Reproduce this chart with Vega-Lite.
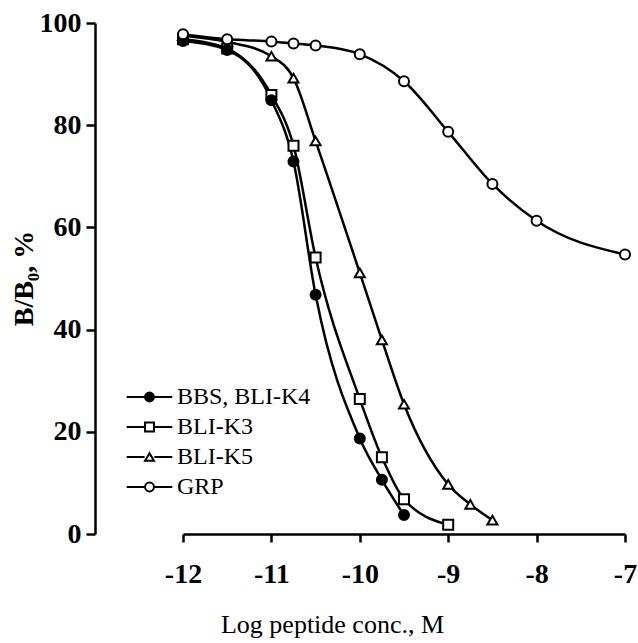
{
  "$schema": "https://vega.github.io/schema/vega-lite/v6.json",
  "width": 530,
  "height": 511,
  "autosize": {"type": "none"},
  "padding": {"left": 95, "top": 23, "right": 13, "bottom": 109},
  "background": "white",
  "config": {"view": {"stroke": null}, "font": "Liberation Serif"},
  "data": {
    "values": [
      {"series": "BLI-K5", "logc": -12, "bb": 97.5},
      {"series": "BLI-K5", "logc": -11.5, "bb": 96.3},
      {"series": "BLI-K5", "logc": -11, "bb": 93.5},
      {"series": "BLI-K5", "logc": -10.75, "bb": 89.2},
      {"series": "BLI-K5", "logc": -10.5, "bb": 76.9},
      {"series": "BLI-K5", "logc": -10, "bb": 51.1},
      {"series": "BLI-K5", "logc": -9.75, "bb": 38.0},
      {"series": "BLI-K5", "logc": -9.5, "bb": 25.4},
      {"series": "BLI-K5", "logc": -9, "bb": 9.7},
      {"series": "BLI-K5", "logc": -8.75, "bb": 5.8},
      {"series": "BLI-K5", "logc": -8.5, "bb": 2.7},
      {"series": "BLI-K3", "logc": -12, "bb": 96.8},
      {"series": "BLI-K3", "logc": -11.5, "bb": 95.0},
      {"series": "BLI-K3", "logc": -11, "bb": 85.9},
      {"series": "BLI-K3", "logc": -10.75, "bb": 76.0},
      {"series": "BLI-K3", "logc": -10.5, "bb": 54.1},
      {"series": "BLI-K3", "logc": -10, "bb": 26.4},
      {"series": "BLI-K3", "logc": -9.75, "bb": 15.0},
      {"series": "BLI-K3", "logc": -9.5, "bb": 6.8},
      {"series": "BLI-K3", "logc": -9, "bb": 1.8},
      {"series": "BBS, BLI-K4", "logc": -12, "bb": 96.5},
      {"series": "BBS, BLI-K4", "logc": -11.5, "bb": 94.7},
      {"series": "BBS, BLI-K4", "logc": -11, "bb": 84.9},
      {"series": "BBS, BLI-K4", "logc": -10.75, "bb": 72.9},
      {"series": "BBS, BLI-K4", "logc": -10.5, "bb": 46.8},
      {"series": "BBS, BLI-K4", "logc": -10, "bb": 18.7},
      {"series": "BBS, BLI-K4", "logc": -9.75, "bb": 10.6},
      {"series": "BBS, BLI-K4", "logc": -9.5, "bb": 3.7},
      {"series": "GRP", "logc": -12, "bb": 97.8},
      {"series": "GRP", "logc": -11.5, "bb": 96.8},
      {"series": "GRP", "logc": -11, "bb": 96.4},
      {"series": "GRP", "logc": -10.75, "bb": 96.0},
      {"series": "GRP", "logc": -10.5, "bb": 95.6},
      {"series": "GRP", "logc": -10, "bb": 93.9},
      {"series": "GRP", "logc": -9.5, "bb": 88.6},
      {"series": "GRP", "logc": -9, "bb": 78.7},
      {"series": "GRP", "logc": -8.5, "bb": 68.5},
      {"series": "GRP", "logc": -8, "bb": 61.3},
      {"series": "GRP", "logc": -7, "bb": 54.7}
    ]
  },
  "encoding": {
    "x": {
      "field": "logc",
      "type": "quantitative",
      "scale": {"domain": [-12, -7], "range": [88, 530], "nice": false, "zero": false},
      "axis": {
        "title": "Log peptide conc., M",
        "values": [-12, -11, -10, -9, -8, -7],
        "labelExpr": "'' + datum.value",
        "grid": false,
        "labelFlush": false,
        "domainColor": "black",
        "domainWidth": 2.5,
        "tickColor": "black",
        "tickWidth": 2.5,
        "tickSize": 8,
        "labelFont": "Liberation Serif",
        "labelFontSize": 28,
        "labelFontWeight": "bold",
        "labelColor": "black",
        "labelPadding": 18,
        "titleFont": "Liberation Serif",
        "titleFontSize": 26,
        "titleFontWeight": "normal",
        "titleColor": "black",
        "titleX": 237,
        "titleY": 98,
        "titleBaseline": "alphabetic",
        "titleAlign": "center"
      }
    },
    "y": {
      "field": "bb",
      "type": "quantitative",
      "scale": {"domain": [0, 100], "nice": false},
      "axis": {
        "title": "B/B₀, %",
        "values": [0, 20, 40, 60, 80, 100],
        "grid": false,
        "labelFlush": false,
        "domainColor": "black",
        "domainWidth": 2.5,
        "tickColor": "black",
        "tickWidth": 2.5,
        "tickSize": 9,
        "labelFont": "Liberation Serif",
        "labelFontSize": 28,
        "labelFontWeight": "bold",
        "labelColor": "black",
        "labelPadding": 5,
        "titleFont": "Liberation Serif",
        "titleFontSize": 28,
        "titleFontWeight": "bold",
        "titleColor": "black",
        "titleX": -63,
        "titleY": 255,
        "titleAngle": 270,
        "titleBaseline": "alphabetic",
        "titleAlign": "center"
      }
    }
  },
  "layer": [
    {
      "mark": {"type": "line", "interpolate": "monotone", "strokeWidth": 2.5},
      "encoding": {
        "stroke": {
          "field": "series",
          "type": "nominal",
          "scale": {"domain": ["BBS, BLI-K4", "BLI-K3", "BLI-K5", "GRP", "zz"], "range": ["black", "black", "black", "black", "black"]},
          "legend": {
            "title": null,
            "values": ["BBS, BLI-K4", "BLI-K3", "BLI-K5", "GRP"],
            "orient": "none",
            "legendX": 42.5,
            "legendY": 362,
            "padding": 0,
            "labelFont": "Liberation Serif",
            "labelFontSize": 24,
            "labelColor": "black",
            "labelOpacity": 0,
            "labelOffset": 15.5,
            "rowPadding": 6,
            "symbolType": "M-5.1,0H-1.1M1.1,0H5.1",
            "symbolSize": 80,
            "symbolStrokeWidth": 2,
            "symbolStrokeColor": "black"
          }
        }
      }
    },
    {
      "mark": {"type": "point", "filled": true, "stroke": "black", "strokeWidth": 2, "size": 100, "opacity": 1},
      "encoding": {
        "shape": {
          "field": "series",
          "type": "nominal",
          "scale": {"domain": ["BBS, BLI-K4", "BLI-K3", "BLI-K5", "GRP"], "range": ["circle", "square", "triangle-up", "circle"]},
          "legend": {
            "title": null,
            "orient": "none",
            "legendX": 42.5,
            "legendY": 362,
            "padding": 0,
            "labelFont": "Liberation Serif",
            "labelFontSize": 24,
            "labelColor": "black",
            "labelOffset": 15.5,
            "rowPadding": 6,
            "symbolSize": 80,
            "symbolStrokeColor": "black",
            "symbolStrokeWidth": 2,
            "symbolFillColor": "white",
            "encode": {
              "symbols": {
                "update": {
                  "stroke": {"value": "black"},
                  "strokeWidth": {"value": 2},
                  "fill": {"signal": "datum.value === 'BBS, BLI-K4' ? 'black' : 'white'"}
                }
              }
            }
          }
        },
        "fill": {
          "field": "series",
          "type": "nominal",
          "scale": {"domain": ["BBS, BLI-K4", "BLI-K3", "BLI-K5", "GRP"], "range": ["black", "white", "white", "white"]},
          "legend": null
        }
      }
    }
  ]
}
